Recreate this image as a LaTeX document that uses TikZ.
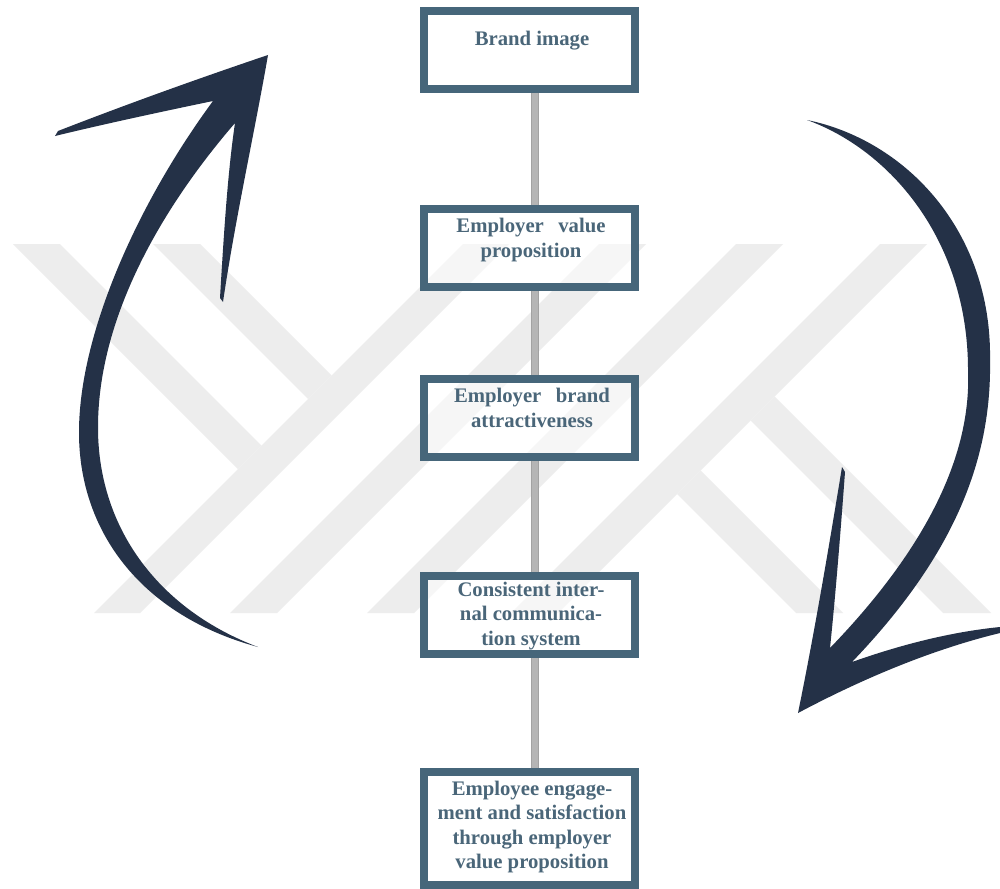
\documentclass[tikz,border=0pt]{standalone}
\usepackage{fontspec}
\setmainfont{Liberation Serif}
\definecolor{boxc}{HTML}{46667A}
\definecolor{txtc}{HTML}{4A6679}
\definecolor{arrc}{HTML}{243147}
\definecolor{linec}{HTML}{B5B5B5}
\definecolor{lineedge}{HTML}{A2A2A2}
\definecolor{wm}{HTML}{EDEDED}
\begin{document}
\begin{tikzpicture}[x=1pt,y=-1pt,
  box/.style={draw=boxc, line width=8pt, fill=white, fill opacity=0.55, draw opacity=1,
              minimum width=211pt, minimum height=78pt, inner sep=0pt},
  txt/.style={text=txtc, font=\bfseries\fontsize{20.7}{24.6}\selectfont, align=center,
              anchor=north, inner sep=0pt},
  connedge/.style={draw=lineedge, line width=8pt},
  conn/.style={draw=linec, line width=6pt},
  wmark/.style={fill=wm},
  bigarrow/.style={fill=arrc}]
\useasboundingbox (0,0) rectangle (1000,888);
\fill[white] (0,0) rectangle (1000,888);

% watermark
\fill[wmark] (463,244) -- (509,244) -- (140,613) -- (94,613) -- cycle;
\fill[wmark] (599,244) -- (646,244) -- (277,613) -- (230,613) -- cycle;
\fill[wmark] (736,244) -- (783,244) -- (414,613) -- (367,613) -- cycle;
\fill[wmark] (880,244) -- (927,244) -- (558,613) -- (511,613) -- cycle;
\fill[wmark] (13,244) -- (60,244) -- (261.5,445.5) -- (238,469) -- cycle;
\fill[wmark] (153,244) -- (200,244) -- (331.5,375.5) -- (308,399) -- cycle;
\fill[wmark] (774.5,396.5) -- (750.5,420.5) -- (943,613) -- (991,613) -- cycle;
\fill[wmark] (700.5,470.5) -- (677,494) -- (796,613) -- (843,613) -- cycle;

% boxes
\node[box] (b1) at (529.5,50) {};
\node[box] (b2) at (529.5,248) {};
\node[box] (b3) at (529.5,418) {};
\node[box] (b4) at (529.5,615) {};
\node[box, minimum height=113pt] (b5) at (529.5,828) {};

% connectors
\foreach \a/\b in {b1/b2,b2/b3,b3/b4,b4/b5}{
  \draw[connedge] ([xshift=5.5pt]\a.south) -- ([xshift=5.5pt]\b.north);
  \draw[conn] ([xshift=5.5pt]\a.south) -- ([xshift=5.5pt]\b.north);
}

% texts
\node[txt] (t1) at (532,31) {Brand image};
\node[txt] (t2) at (531,218) {Employer\hspace{0.45em} value\\proposition};
\node[txt] (t3) at (532,388) {Employer\hspace{0.45em} brand\\attractiveness};
\node[txt] (t4) at (531,581.5) {Consistent inter-\\nal communica-\\tion system};
\node[txt] (t5) at (532,780.5) {Employee engage-\\ment and satisfaction\\through employer\\value proposition};

% left arrow
\fill[bigarrow] (258,647)
  .. controls (140,615) and (78,530) .. (79,430)
  .. controls (80,330) and (140,200) .. (213,101)
  .. controls (160,112) and (100,125) .. (55,136)
  -- (58,131)
  .. controls (130,103) and (200,78) .. (268,55)
  .. controls (255,130) and (235,220) .. (223,302)
  -- (220,298)
  .. controls (224,230) and (228,170) .. (235,123)
  .. controls (160,210) and (97,320) .. (98,430)
  .. controls (99,530) and (160,610) .. (258,647) -- cycle;

% right arrow
\fill[bigarrow] (807,120)
  .. controls (905,140) and (992,230) .. (990,360)
  .. controls (992,470) and (945,565) .. (852,662)
  .. controls (900,645) and (950,632) .. (1000,627)
  -- (1000,633)
  .. controls (930,650) and (860,680) .. (798,713)
  .. controls (815,630) and (830,540) .. (842,467)
  -- (845,472)
  .. controls (840,540) and (835,600) .. (830,648)
  .. controls (915,560) and (972,465) .. (968,370)
  .. controls (968,240) and (890,150) .. (807,120) -- cycle;
\end{tikzpicture}
\end{document}
